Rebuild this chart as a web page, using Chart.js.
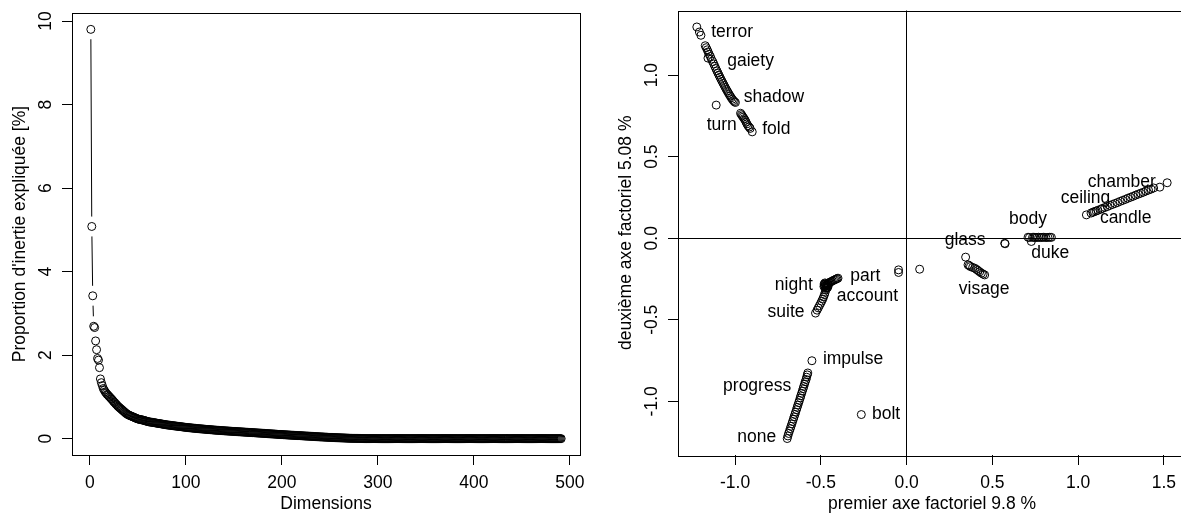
<!DOCTYPE html>
<html><head><meta charset="utf-8">
<script src="https://cdn.jsdelivr.net/npm/chart.js@4.4.0/dist/chart.umd.min.js"></script>
<style>
html,body{margin:0;padding:0;background:#fff;overflow:hidden;}
#wrap{position:relative;width:1181px;height:517px;overflow:hidden;background:#fff;}
canvas{position:absolute;top:0;}
#c1{left:0;} #c2{left:606px;}
</style></head><body>
<div id="wrap"><canvas id="c1" width="590" height="517"></canvas><canvas id="c2" width="590" height="517"></canvas></div>
<script>
// ---------- Left panel: scree plot ----------
const screeValues = [
9.80,5.08,3.42,2.69,2.66,2.34,2.13,1.92,1.88,1.70,
1.43,1.34,1.27,1.20,1.16,1.12,1.09,1.06,1.04,1.01,
0.99,0.96,0.94,0.91,0.88,0.86,0.83,0.81,0.78,0.76,
0.74,0.72,0.70,0.68,0.66,0.64,0.62,0.60,0.585,0.57,
0.56,0.55,0.54,0.53,0.52,0.51,0.50,0.49,0.48,0.47,
0.465,0.46,0.455,0.45,0.445,0.44,0.43,0.425,0.42,0.41,
0.405,0.40,0.397,0.393,0.39,0.386,0.382,0.378,0.374,0.37,
0.366,0.362,0.358,0.354,0.35,0.346,0.342,0.338,0.334,0.33,
0.327,0.324,0.321,0.318,0.315,0.312,0.309,0.306,0.303,0.30,
0.297,0.294,0.291,0.288,0.285,0.282,0.279,0.276,0.273,0.27,
0.268,0.265,0.263,0.26,0.258,0.255,0.253,0.25,0.248,0.246,
0.243,0.241,0.239,0.237,0.235,0.233,0.231,0.229,0.227,0.225,
0.223,0.221,0.219,0.217,0.215,0.213,0.211,0.209,0.207,0.205,
0.203,0.201,0.199,0.198,0.196,0.194,0.193,0.191,0.19,0.188,
0.186,0.185,0.183,0.182,0.18,0.179,0.177,0.176,0.174,0.173,
0.171,0.17,0.168,0.167,0.165,0.164,0.162,0.161,0.159,0.158,
0.156,0.155,0.153,0.152,0.15,0.149,0.147,0.146,0.144,0.143,
0.141,0.14,0.138,0.137,0.135,0.134,0.132,0.131,0.129,0.128,
0.126,0.125,0.123,0.122,0.12,0.118,0.117,0.115,0.114,0.112,
0.111,0.109,0.108,0.106,0.105,0.103,0.102,0.1,0.099,0.097,
0.096,0.094,0.093,0.091,0.09,0.088,0.087,0.085,0.084,0.082,
0.081,0.08,0.078,0.077,0.076,0.074,0.073,0.072,0.07,0.069,
0.068,0.066,0.065,0.064,0.062,0.061,0.06,0.058,0.057,0.056,
0.054,0.053,0.052,0.05,0.049,0.048,0.046,0.045,0.044,0.042,
0.041,0.04,0.039,0.037,0.036,0.035,0.034,0.032,0.031,0.03,
0.029,0.028,0.027,0.026,0.025,0.024,0.023,0.022,0.021,0.02,
0.019,0.018,0.017,0.016,0.015,0.014,0.013,0.012,0.011,0.01,
0.009,0.0085,0.008,0.0075,0.007,0.0065,0.006,0.0055,0.005,0.0045,
0.004,0.0035,0.003,0.0025,0.002,0.0015,0.001,0.0008,0.0005,0.0003,
0,0,0,0,0,0,0,0,0,0,
0,0,0,0,0,0,0,0,0,0,
0,0,0,0,0,0,0,0,0,0,
0,0,0,0,0,0,0,0,0,0,
0,0,0,0,0,0,0,0,0,0,
0,0,0,0,0,0,0,0,0,0,
0,0,0,0,0,0,0,0,0,0,
0,0,0,0,0,0,0,0,0,0,
0,0,0,0,0,0,0,0,0,0,
0,0,0,0,0,0,0,0,0,0,
0,0,0,0,0,0,0,0,0,0,
0,0,0,0,0,0,0,0,0,0,
0,0,0,0,0,0,0,0,0,0,
0,0,0,0,0,0,0,0,0,0,
0,0,0,0,0,0,0,0,0,0,
0,0,0,0,0,0,0,0,0,0,
0,0,0,0,0,0,0,0,0,0,
0,0,0,0,0,0,0,0,0,0,
0,0,0,0,0,0,0,0,0,0,
0,0,0,0,0,0,0,0,0,0,
0
];
const screeXTicks = [0,100,200,300,400,500];
const screeYTicks = [0,2,4,6,8,10];
const screeXTitle = "Dimensions";
const screeYTitle = "Proportion d'inertie expliquée [%]";

// ---------- Right panel: factor map ----------
const wordPoints = [
// terror ... fold
[-1.223,1.295],[-1.208,1.264],[-1.199,1.244],[-1.174,1.180],[-1.168,1.168],[-1.162,1.155],[-1.157,1.142],[-1.151,1.128],
[-1.158,1.104],[-1.144,1.114],[-1.138,1.098],[-1.131,1.083],[-1.124,1.068],[-1.118,1.054],[-1.112,1.040],[-1.106,1.026],
[-1.100,1.013],[-1.094,1.000],[-1.088,0.987],[-1.082,0.974],[-1.076,0.962],[-1.070,0.950],[-1.064,0.938],[-1.058,0.926],
[-1.052,0.914],[-1.046,0.903],[-1.040,0.892],[-1.034,0.881],[-1.028,0.871],[-1.022,0.861],[-1.016,0.852],[-1.010,0.844],
[-1.004,0.837],[-0.998,0.832],
[-0.968,0.766],[-0.963,0.758],[-0.958,0.750],[-0.953,0.742],[-0.947,0.733],[-0.941,0.723],[-0.936,0.712],[-0.931,0.701],
[-0.925,0.690],[-0.918,0.681],[-0.912,0.673],[-0.900,0.652],
[-1.110,0.816],
// suite / night / part / account
[-0.531,-0.459],[-0.522,-0.441],[-0.515,-0.427],[-0.508,-0.413],[-0.501,-0.399],[-0.495,-0.386],[-0.489,-0.373],[-0.484,-0.360],
[-0.479,-0.346],[-0.475,-0.332],[-0.472,-0.318],[-0.470,-0.304],[-0.468,-0.292],[-0.466,-0.286],[-0.475,-0.296],[-0.461,-0.279],
[-0.479,-0.289],[-0.467,-0.302],[-0.471,-0.279],[-0.459,-0.292],[-0.481,-0.281],[-0.463,-0.305],[-0.458,-0.275],[-0.476,-0.274],
[-0.455,-0.286],[-0.482,-0.296],[-0.472,-0.308],[-0.460,-0.300],[-0.452,-0.273],[-0.446,-0.270],[-0.440,-0.266],[-0.433,-0.262],
[-0.426,-0.258],[-0.419,-0.255],[-0.412,-0.251],[-0.406,-0.248],[-0.400,-0.245],
// near origin
[-0.047,-0.194],[-0.047,-0.210],[0.076,-0.190],
// glass / visage
[0.344,-0.116],[0.358,-0.163],[0.365,-0.168],[0.372,-0.174],[0.385,-0.179],[0.397,-0.184],[0.407,-0.191],[0.416,-0.198],
[0.426,-0.206],[0.436,-0.214],[0.446,-0.220],[0.455,-0.225],
[0.572,-0.031],[0.574,-0.034],
// body / duke
[0.708,0.006],[0.716,0.004],[0.727,-0.020],[0.734,0.005],[0.742,0.006],[0.751,0.004],[0.760,0.005],[0.770,0.006],
[0.780,0.004],[0.790,0.005],[0.800,0.006],[0.812,0.004],[0.824,0.005],[0.835,0.006],[0.844,0.005],
// ceiling / candle / chamber
[1.048,0.143],[1.075,0.154],[1.085,0.159],[1.095,0.163],[1.105,0.167],[1.115,0.171],[1.130,0.177],[1.140,0.182],
[1.155,0.188],[1.170,0.194],[1.185,0.201],[1.200,0.207],[1.215,0.213],[1.230,0.219],[1.245,0.226],[1.260,0.232],
[1.275,0.238],[1.290,0.245],[1.305,0.251],[1.320,0.257],[1.335,0.264],[1.350,0.270],[1.365,0.276],[1.380,0.282],
[1.395,0.289],[1.410,0.295],[1.425,0.301],[1.440,0.308],[1.476,0.313],[1.519,0.340],
// impulse / progress / none / bolt
[-0.552,-0.751],
[-0.576,-0.826],[-0.579,-0.838],[-0.583,-0.852],[-0.586,-0.866],[-0.591,-0.880],[-0.595,-0.894],[-0.600,-0.909],[-0.603,-0.922],
[-0.608,-0.937],[-0.612,-0.951],[-0.617,-0.966],[-0.620,-0.979],[-0.625,-0.994],[-0.629,-1.008],[-0.634,-1.023],[-0.638,-1.037],
[-0.642,-1.051],[-0.647,-1.066],[-0.651,-1.080],[-0.656,-1.095],[-0.660,-1.109],[-0.665,-1.124],[-0.669,-1.138],[-0.674,-1.153],
[-0.678,-1.167],[-0.683,-1.182],[-0.688,-1.197],[-0.692,-1.212],[-0.696,-1.228],
[-0.264,-1.081]
];
const labelWords = ["terror","gaiety","shadow","turn","fold","night","part","account","suite","impulse","progress","none","bolt","glass","visage","body","duke","chamber","ceiling","candle"];
const labelX = [-1.139,-1.046,-0.949,-0.990,-0.842,-0.547,-0.329,-0.407,-0.595,-0.488,-0.673,-0.760,-0.202,0.341,0.452,0.708,0.837,1.254,1.043,1.277];
const labelY = [1.261,1.085,0.863,0.693,0.667,-0.286,-0.233,-0.353,-0.455,-0.739,-0.906,-1.218,-1.081,-0.015,-0.311,0.114,-0.092,0.343,0.247,0.122];
const mapXTicks = [-1,-0.5,0,0.5,1,1.5];
const mapYTicks = [-1,-0.5,0,0.5,1];
const mapXTitle = "premier axe factoriel 9.8 %";
const mapYTitle = "deuxième axe factoriel 5.08 %";

// ---------- styling ----------
const labelAlign = ['left','left','left','right','left','right','left','left','right','left','right','right','left','center','center','center','center','center','center','center'];
const FONT = 'Arial, "Liberation Sans", Helvetica, sans-serif';
const FS = 17.5;
const PR = 4;
Chart.defaults.font.family = FONT;
Chart.defaults.font.size = FS;
Chart.defaults.color = '#000';

function rExtend(arr) {
  const mn = Math.min(...arr), mx = Math.max(...arr), r = mx - mn;
  return [mn - 0.04 * r, mx + 0.04 * r];
}

function boxPlugin(yTicks, yFmt) {
  return {
    id: 'rbox',
    afterDraw(chart) {
      const {ctx, chartArea: a, scales} = chart;
      ctx.save();
      ctx.strokeStyle = '#000'; ctx.lineWidth = 1;
      ctx.strokeRect(Math.round(a.left) + 0.5, Math.round(a.top) + 0.5,
                     Math.round(a.right - a.left), Math.round(a.bottom - a.top));
      ctx.fillStyle = '#000';
      ctx.font = FS + 'px ' + FONT;
      ctx.textAlign = 'center'; ctx.textBaseline = 'middle';
      yTicks.forEach(v => {
        const py = scales.y.getPixelForValue(v);
        ctx.save(); ctx.translate(a.left - 26, py); ctx.rotate(-Math.PI / 2);
        ctx.fillText(yFmt(v), 0, 0); ctx.restore();
      });
      ctx.restore();
    }
  };
}

function xScale(min, max, ticks, fmt, title, gridColor) {
  return {
    type: 'linear', position: 'bottom', min, max,
    afterBuildTicks: s => { s.ticks = ticks.map(v => ({value: v})); },
    afterFit: s => { s.height = 62; s.paddingLeft = 0; s.paddingRight = 0; },
    border: {display: false},
    grid: {display: true, drawOnChartArea: !!gridColor, drawTicks: true, tickLength: 10,
           tickColor: '#000', tickWidth: 1, lineWidth: 1,
           color: gridColor || 'rgba(0,0,0,0)'},
    ticks: {display: true, color: '#000', padding: 7.5, autoSkip: false, maxRotation: 0, minRotation: 0,
            font: {family: FONT, size: FS}, callback: v => fmt(v)},
    title: {display: true, text: title, color: '#000', font: {family: FONT, size: FS}, padding: {top: 0, bottom: 2}}
  };
}
function yScale(min, max, ticks, title, gridColor) {
  return {
    type: 'linear', position: 'left', min, max,
    afterBuildTicks: s => { s.ticks = ticks.map(v => ({value: v})); },
    afterFit: s => { s.width = 72; s.paddingTop = 0; s.paddingBottom = 0; },
    border: {display: false},
    grid: {display: true, drawOnChartArea: !!gridColor, drawTicks: true, tickLength: 10,
           tickColor: '#000', tickWidth: 1, lineWidth: 1,
           color: gridColor || 'rgba(0,0,0,0)'},
    ticks: {display: false},
    title: {display: true, text: title, color: '#000', font: {family: FONT, size: FS}, padding: {top: 9.5, bottom: 0}}
  };
}
const common = {
  responsive: false, animation: false, events: [],
  plugins: {legend: {display: false}, tooltip: {enabled: false}},
};

// ----- left chart -----
const screePts = screeValues.map((v, i) => ({x: i + 1, y: v}));
const sx = rExtend(screePts.map(p => p.x));
const sy = rExtend(screeValues);
new Chart(document.getElementById('c1'), {
  type: 'scatter',
  data: {datasets: [
    {data: screePts, showLine: true, borderColor: '#000', borderWidth: 1, pointRadius: 0, order: 3},
    {data: screePts, showLine: false, pointRadius: 10, pointBackgroundColor: '#fff', pointBorderWidth: 0, pointBorderColor: 'rgba(0,0,0,0)', order: 2},
    {data: screePts, showLine: false, pointRadius: PR, pointBorderWidth: 1, pointBorderColor: '#000', pointBackgroundColor: 'rgba(0,0,0,0)', order: 1}
  ]},
  options: Object.assign({}, common, {
    layout: {padding: {top: 13, right: 10, left: 0, bottom: 0}},
    scales: {
      x: xScale(sx[0], sx[1], screeXTicks, v => String(v), screeXTitle),
      y: yScale(sy[0], sy[1], screeYTicks, screeYTitle)
    }
  }),
  plugins: [boxPlugin(screeYTicks, v => String(v))]
});

// ----- right chart -----
const mapPts = wordPoints.map(p => ({x: p[0], y: p[1]}));
const mx = rExtend(wordPoints.map(p => p[0]));
const my = rExtend(wordPoints.map(p => p[1]));
const zeroLine = c => (c.tick && Math.abs(c.tick.value) < 1e-9) ? '#000' : 'rgba(0,0,0,0)';
const labelPlugin = {
  id: 'wordlabels',
  afterDatasetsDraw(chart) {
    const {ctx, scales} = chart;
    ctx.save();
    ctx.fillStyle = '#000';
    ctx.font = FS + 'px ' + FONT;
    ctx.textBaseline = 'middle';
    labelWords.forEach((w, i) => {
      ctx.textAlign = labelAlign[i];
      ctx.fillText(w, scales.x.getPixelForValue(labelX[i]), scales.y.getPixelForValue(labelY[i]));
    });
    ctx.restore();
  }
};
new Chart(document.getElementById('c2'), {
  type: 'scatter',
  data: {datasets: [
    {data: mapPts, showLine: false, pointRadius: PR, pointBorderWidth: 1, pointBorderColor: '#000', pointBackgroundColor: 'rgba(0,0,0,0)'}
  ]},
  options: Object.assign({}, common, {
    layout: {padding: {top: 10.5, right: 10, left: 0, bottom: 0}},
    scales: {
      x: xScale(mx[0], mx[1], mapXTicks, v => v.toFixed(1), mapXTitle, zeroLine),
      y: yScale(my[0], my[1], mapYTicks, mapYTitle, zeroLine)
    }
  }),
  plugins: [labelPlugin, boxPlugin(mapYTicks, v => v.toFixed(1))]
});
</script>
</body></html>
